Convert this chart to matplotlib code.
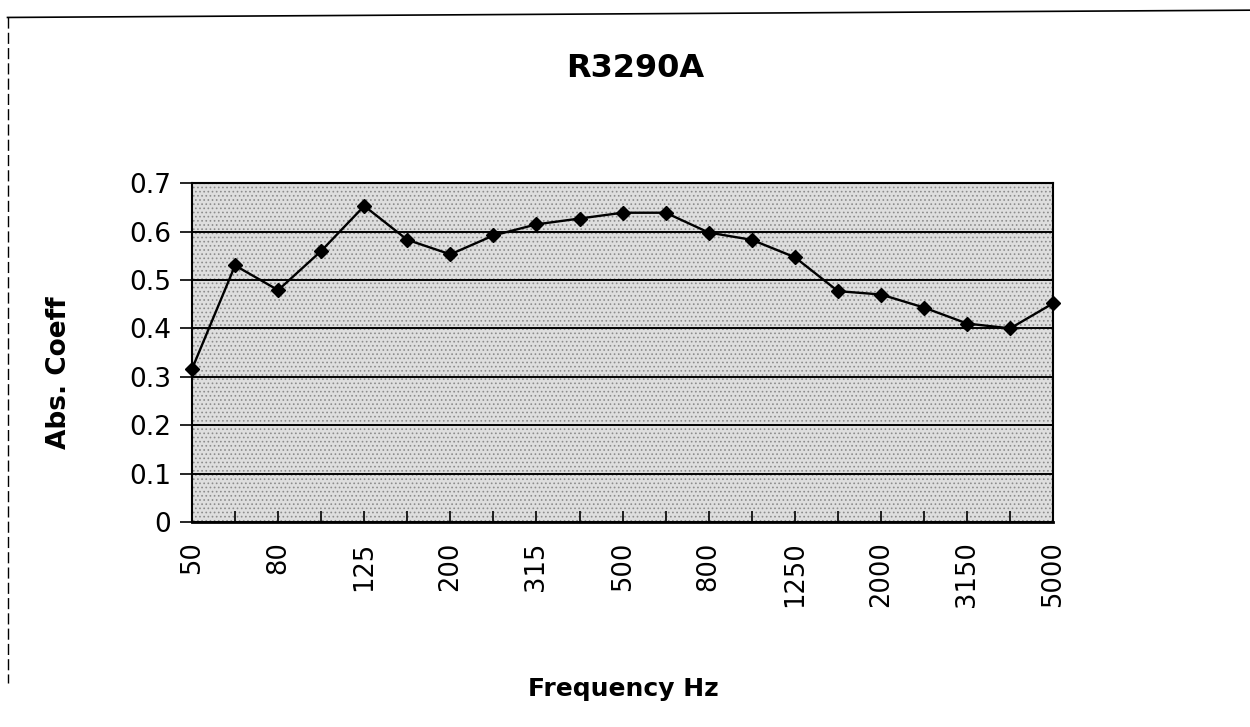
# plot.py
# Absorption coefficient chart for sample R3290A

import matplotlib
matplotlib.use("Agg")
import matplotlib.pyplot as plt
from matplotlib.lines import Line2D

# 1/3 octave band centre frequencies (Hz)
freqs = ["50", "63", "80", "100", "125", "160", "200", "250", "315", "400",
         "500", "630", "800", "1000", "1250", "1600", "2000", "2500", "3150",
         "4000", "5000"]
# absorption coefficient
abs_coeff = [0.316, 0.530, 0.479, 0.560, 0.653, 0.583, 0.553, 0.592, 0.615,
             0.627, 0.639, 0.639, 0.598, 0.583, 0.547, 0.477, 0.470, 0.443,
             0.410, 0.400, 0.452]
y_ticks = [0, 0.1, 0.2, 0.3, 0.4, 0.5, 0.6, 0.7]
y_labels = ["0", "0.1", "0.2", "0.3", "0.4", "0.5", "0.6", "0.7"]

plt.rcParams["font.family"] = ["DejaVu Sans"]
plt.rcParams["hatch.linewidth"] = 0.7

fig = plt.figure(figsize=(12.5, 7.27), dpi=100)
ax = fig.add_axes([0.1536, 0.282, 0.689, 0.466])

x = list(range(len(freqs)))

# stippled plot area like the scanned original
ax.set_facecolor("#dedede")
ax.patch.set_hatch("....")
ax.patch.set_edgecolor("#8c8c8c")

ax.plot(x, abs_coeff, color="black", linewidth=1.7, marker="D",
        markersize=7.5, markerfacecolor="black", markeredgecolor="black",
        zorder=4, clip_on=False)

ax.set_xlim(0, len(freqs) - 1)
ax.set_ylim(0, 0.7)
ax.set_yticks(y_ticks)
ax.set_yticklabels(y_labels, fontsize=19)
ax.yaxis.grid(True, color="black", linewidth=1.4)
ax.set_axisbelow(True)

# every band gets a tick, only every other one a label
ax.set_xticks(x)
ax.set_xticklabels([f if i % 2 == 0 else "" for i, f in enumerate(freqs)],
                   rotation=90, fontsize=18.5)
ax.tick_params(axis="x", direction="in", length=8, width=1.2, pad=14)
ax.tick_params(axis="y", direction="out", length=9, width=1.2, pad=6)

for side in ["left", "bottom", "top", "right"]:
    ax.spines[side].set_color("black")
    ax.spines[side].set_linewidth(1.5)
ax.spines["bottom"].set_linewidth(2)

fig.text(0.508, 0.906, "R3290A", ha="center", va="center",
         fontsize=23, fontweight="bold")
fig.text(0.047, 0.488, "Abs. Coeff", ha="center", va="center",
         rotation=90, fontsize=19, fontweight="bold")
fig.text(0.499, 0.052, "Frequency Hz", ha="center", va="center",
         fontsize=18, fontweight="bold")

# partial frame of the chart area from the scan
fig.add_artist(Line2D([0.006, 1.0], [0.976, 0.986], transform=fig.transFigure,
                      color="black", linewidth=1.2))
fig.add_artist(Line2D([0.006, 0.006], [0.976, 0.06], transform=fig.transFigure,
                      color="black", linewidth=1.0, linestyle=(0, (8, 3))))

fig.savefig("out.png", dpi=100)
